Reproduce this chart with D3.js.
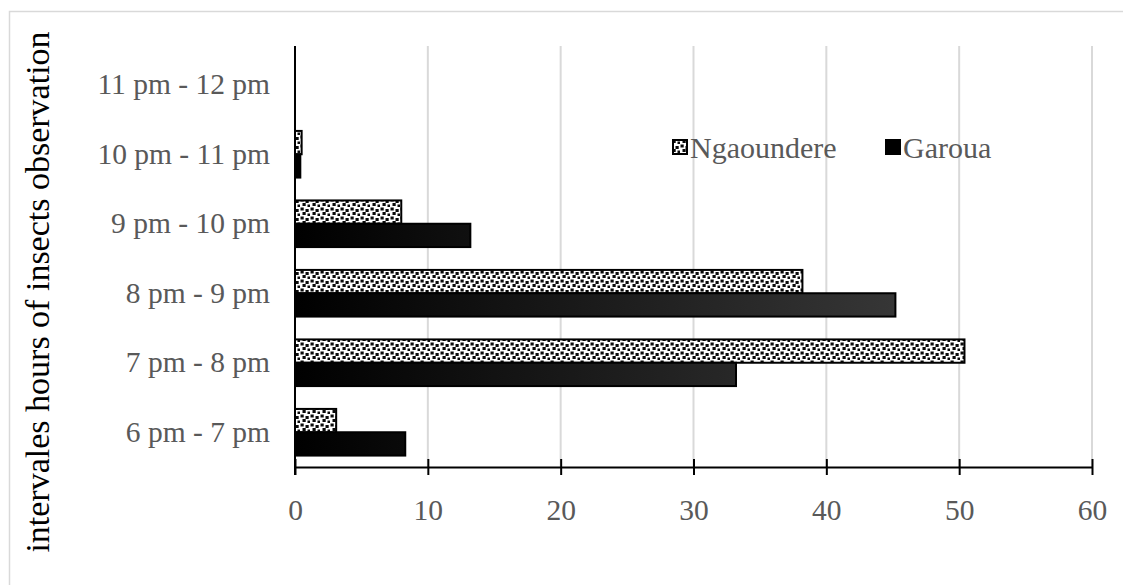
<!DOCTYPE html>
<html><head><meta charset="utf-8">
<script src="https://cdn.jsdelivr.net/npm/d3@7"></script>
<style>body{margin:0;background:#fff}svg{display:block;font-family:'Liberation Serif','Times New Roman',serif}</style>
</head><body>
<script>
const categories = ["6 pm - 7 pm","7 pm - 8 pm","8 pm - 9 pm","9 pm - 10 pm","10 pm - 11 pm","11 pm - 12 pm"];
const seriesNames = ["Ngaoundere","Garoua"];
const ngaoundere = [3.1, 50.4, 38.2, 8.0, 0.5, 0];
const garoua = [8.3, 33.2, 45.2, 13.2, 0.4, 0];
const xTicks = [0,10,20,30,40,50,60];
const yTitle = "intervales hours of insects observation";

const W=1123,H=585;
const svg=d3.select("body").append("svg").attr("width",W).attr("height",H);
const defs=svg.append("defs");
const pat=defs.append("pattern").attr("id","confetti").attr("patternUnits","userSpaceOnUse").attr("width",10).attr("height",9);
pat.append("rect").attr("width",10).attr("height",9).attr("fill","#fff");
[[0.5,0.5],[5.5,2],[2.5,5],[7.5,6.5]].forEach(p=>{
  pat.append("rect").attr("x",p[0]).attr("y",p[1]).attr("width",3.2).attr("height",3).attr("fill","#0a0a0a");
});

const font="'Liberation Serif','Times New Roman',serif";
const gray="#595959";

svg.append("rect").attr("x",9.5).attr("y",11.5).attr("width",1300).attr("height",800)
  .attr("fill","#fff").attr("stroke","#d9d9d9").attr("stroke-width",1.5);

const x=d3.scaleLinear().domain([0,60]).range([295,1092]);
const y=d3.scaleBand().domain(categories.slice().reverse()).range([50,467]);
const inner=d3.scaleBand().domain(seriesNames).range([0,y.bandwidth()]).paddingInner(0).paddingOuter(0.49);

const grad=defs.append("linearGradient").attr("id","garGrad").attr("gradientUnits","userSpaceOnUse")
  .attr("x1",x(0)).attr("x2",x(60)).attr("y1",0).attr("y2",0);
grad.append("stop").attr("offset","0%").attr("stop-color","#000");
grad.append("stop").attr("offset","100%").attr("stop-color","#484848");

// gridlines
svg.append("g").selectAll("line").data(xTicks.slice(1)).join("line")
  .attr("x1",d=>x(d)).attr("x2",d=>x(d)).attr("y1",46).attr("y2",467)
  .attr("stroke","#d9d9d9").attr("stroke-width",2);

const data=[];
categories.forEach((c,i)=>{
  data.push({c,s:"Ngaoundere",v:ngaoundere[i]});
  data.push({c,s:"Garoua",v:garoua[i]});
});
svg.append("g").selectAll("rect").data(data.filter(d=>d.v>0)).join("rect")
  .attr("x",x(0)).attr("y",d=>y(d.c)+inner(d.s))
  .attr("width",d=>x(d.v)-x(0)).attr("height",inner.bandwidth())
  .attr("fill",d=>d.s==="Ngaoundere"?"url(#confetti)":"url(#garGrad)")
  .attr("stroke","#000").attr("stroke-width",2);

// x axis
const xa=svg.append("g").attr("transform","translate(0,467)")
  .call(d3.axisBottom(x).tickValues(xTicks).tickSize(8).tickSizeOuter(0).tickPadding(24));
xa.attr("font-family",null);
xa.select(".domain").attr("stroke","#000").attr("stroke-width",2);
xa.selectAll(".tick line").attr("y1",-8).attr("stroke","#000").attr("stroke-width",2);
xa.selectAll("text").attr("font-family",font).attr("font-size",29.5).attr("fill",gray);

// y axis
const ya=svg.append("g").attr("transform","translate(295,0)")
  .call(d3.axisLeft(y).tickSize(0).tickPadding(25));
ya.attr("font-family",null);
ya.select(".domain").attr("d","M0,46V475").attr("stroke","#000").attr("stroke-width",2);
ya.selectAll("text").attr("font-family",font).attr("font-size",29.5).attr("fill",gray);

svg.append("text").attr("transform","translate(49,292) rotate(-90)").attr("text-anchor","middle")
  .attr("font-family",font).attr("font-size",34).attr("fill","#000").text(yTitle);

// legend
const leg=svg.append("g");
const legX=[673,886];
seriesNames.forEach((s,i)=>{
  leg.append("rect").attr("x",legX[i]).attr("y",140).attr("width",14).attr("height",14)
    .attr("fill",i===0?"url(#confetti)":"#000").attr("stroke","#000").attr("stroke-width",2);
  leg.append("text").attr("x",legX[i]+17).attr("y",158).attr("font-family",font)
    .attr("font-size",30).attr("fill",gray).text(s);
});
</script>
</body></html>
